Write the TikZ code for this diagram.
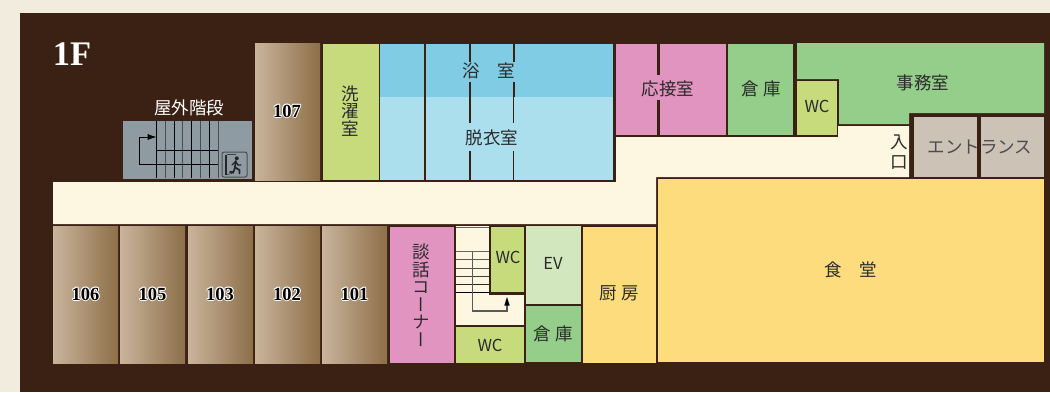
\documentclass[tikz,border=0pt]{standalone}
\usepackage{fontspec}
\usetikzlibrary{arrows.meta}
\setmainfont{Noto Sans CJK JP}
\newfontfamily\numfont{Liberation Serif}[BoldFont=Liberation Serif Bold]
\newfontfamily\jpvert[RawFeature=+vert]{Noto Sans CJK JP}
\definecolor{wall}{HTML}{3A2113}
\definecolor{paper}{HTML}{F1ECDE}
\definecolor{cream}{HTML}{FDF6E0}
\definecolor{lime}{HTML}{C7DA7C}
\definecolor{leaf}{HTML}{94CE8A}
\definecolor{pale}{HTML}{D3E7BE}
\definecolor{rose}{HTML}{E194C0}
\definecolor{bathd}{HTML}{7FCCE4}
\definecolor{bathl}{HTML}{ABDFED}
\definecolor{sun}{HTML}{FCDC7C}
\definecolor{stone}{HTML}{CCC2B6}
\definecolor{steel}{HTML}{8F9BA2}
\definecolor{ink}{HTML}{2B2B2B}
\definecolor{woodl}{HTML}{C9B49C}
\definecolor{woodr}{HTML}{8D6F48}
\newcommand{\halopiece}[3]{\makebox[0pt]{\hspace*{#1}\raisebox{#2}{\textcolor{white}{#3}}}}
\newcommand{\roomno}[1]{{\numfont\bfseries
  \halopiece{1.8pt}{0pt}{#1}\halopiece{-1.8pt}{0pt}{#1}\halopiece{0pt}{1pt}{#1}\halopiece{0pt}{-1pt}{#1}%
  \halopiece{1.4pt}{.8pt}{#1}\halopiece{-1.4pt}{.8pt}{#1}\halopiece{1.4pt}{-.8pt}{#1}\halopiece{-1.4pt}{-.8pt}{#1}%
  \makebox[0pt]{#1}}}
\tikzset{
  lbl/.style={text=ink,inner sep=0pt,font=\fontsize{17.5}{17.5}\selectfont,align=center},
  wclbl/.style={lbl,font=\fontsize{16.5}{16.5}\selectfont},
  numlbl/.style={text=black,inner sep=0pt,font=\fontsize{18.5}{18.5}\selectfont},
  wood/.style={left color=woodl,right color=woodr,draw=none},
  partition/.style={draw=wall,line width=2pt},
  thinpart/.style={draw=wall,line width=1pt},
  stairdark/.style={draw=black,line width=.9pt},
  stairgrey/.style={draw=black!70,line width=1.2pt},
}
\begin{document}
\begin{tikzpicture}[x=1pt,y=-1pt]
\useasboundingbox (0,0) rectangle (1050,392);
\fill[paper] (0,0) rectangle (1050,392);
\fill[wall] (20,13) rectangle (1050,392);
% corridor
\fill[cream] (53,182) -- (616,182) -- (616,137) -- (838,137) -- (838,126) -- (909,126) -- (909,177) -- (656,177) -- (656,224) -- (53,224) -- cycle;
\fill[cream] (456,226) rectangle (524,325);
% wooden rooms
\foreach \a/\b in {53/118,120/185,188/253,255/320,322/387}
  \shade[wood] (\a,226) rectangle (\b,363);
\shade[wood] (255,43) rectangle (320,180);
% upper rooms
\fill[lime] (323,44) rectangle (378.5,180);
\fill[bathd] (380,44) rectangle (613,97);
\fill[bathl] (380,97) rectangle (613,180);
\fill[rose] (616,44) rectangle (726,135);
\fill[leaf] (728,44) rectangle (793,135);
\fill[lime] (797,81) rectangle (837,135);
\fill[leaf] (797,43) -- (1044,43) -- (1044,113) -- (909,113) -- (909,124) -- (839,124) -- (839,79) -- (797,79) -- cycle;
\fill[stone] (914,117) rectangle (977,177);
\fill[stone] (981,117) rectangle (1044,177);
% lower rooms
\fill[rose] (390,227) rectangle (454,363);
\fill[wall] (489,226) rectangle (526,294.5);
\fill[lime] (456,327) rectangle (524,363);
\fill[lime] (491,227) rectangle (524,292);
\fill[pale] (526,226) rectangle (581,304);
\fill[leaf] (526,306) rectangle (581,362);
\fill[sun] (583,227) rectangle (656,363);
\fill[sun] (658,179) rectangle (1044,362);
% bath partitions
\draw[partition] (425,44) -- (425,180);
\draw[partition] (470,44) -- (470,62) (470,82) -- (470,123) (470,151) -- (470,180);
\draw[partition] (513.5,44) -- (513.5,62) (513.5,82) -- (513.5,97);
\draw[thinpart] (513.5,97) -- (513.5,123) (513.5,151) -- (513.5,180);
\draw[draw=wall,line width=2.5pt] (658.5,44) -- (658.5,75) (658.5,100) -- (658.5,135);
% outdoor stairs
\fill[steel] (123,121) rectangle (252,179);
\foreach \x in {156.7,174,191.7,209.3}
  \draw[stairdark] (\x,121) -- (\x,178);
\foreach \x in {165.3,182.7,200.3,218.3}
  \draw[stairgrey] (\x,121) -- (\x,178);
\draw[stairdark] (156.7,150.7) -- (218.3,150.7) (139.3,164.5) -- (218.3,164.5);
\draw[stairdark,-{Latex[length=9pt,width=6pt]}] (156.7,164.5) -- (139.3,164.5) -- (139.3,137) -- (156.7,137);
% exit sign
\draw[draw=black!70,line width=1pt,rounded corners=2pt] (222,152) rectangle (247,177);
\fill[black!85] (225,154.5) rectangle (227,174.5);
\draw[black!75,line width=.7pt] (227,154.5) -- (236,154.5) (227,174.5) -- (234,173);
\fill[black!85] (236.8,158.3) circle (2);
\draw[black!85,line width=1.8pt,line cap=round,line join=round] (235.7,161) -- (235,167.5) -- (239.5,170) -- (239.5,173.5);
\draw[black!85,line width=1.6pt,line cap=round,line join=round] (235,167.5) -- (233.5,172) -- (230,172);
\draw[black!85,line width=1.3pt,line cap=round,line join=round] (232,165) -- (235.7,161.5) -- (238,165) -- (241,165);
% indoor stairs
\draw[draw=black!60,line width=1pt] (456,227) -- (489,227);
\foreach \y/\c in {251.7/60,259.5/65,268/70,276/75,284/85,292/100}
  \draw[draw=black!\c,line width=1pt] (456,\y) -- (489,\y);
\draw[draw=black!65,line width=1.2pt] (472.7,251.7) -- (472.7,311) -- (507,311) -- (507,303);
\fill[black] (507,297) -- (509.7,305.5) -- (504.3,305.5) -- cycle;
% labels
\node[inner sep=0pt,text=white,font={\fontsize{34.5}{34.5}\selectfont\numfont\bfseries}] (floorname) at (72,54) {1F};
\node[lbl,text=white] (outstair) at (189,107.5) {屋外階段};
\node[numlbl] (r107) at (287,111) {\roomno{107}};
\node[numlbl] (r106) at (85.5,294) {\roomno{106}};
\node[numlbl] (r105) at (152.5,294) {\roomno{105}};
\node[numlbl] (r103) at (220,294) {\roomno{103}};
\node[numlbl] (r102) at (287,294) {\roomno{102}};
\node[numlbl] (r101) at (354.5,294) {\roomno{101}};
\node[lbl] (laundry) at (350.5,111) {洗\\濯\\室};
\node[lbl] (bath) at (489,71) {浴　室};
\node[lbl] (dress) at (492,137.5) {脱衣室};
\node[lbl] (parlor) at (668,88.5) {応接室};
\node[lbl] (storeA) at (761,88.5) {倉\hspace{5pt}庫};
\node[wclbl] (wcA) at (817,106.5) {WC};
\node[lbl] (office) at (923,82.5) {事務室};
\node[lbl] (entry) at (899,152) {入\\[2pt]口};
\node[lbl,text=black!70] (hall) at (980,147.5) {エントランス};
\node[lbl,font={\fontsize{17.5}{17.5}\selectfont\jpvert}] (lounge) at (421,295) {談\\話\\コ\\ー\\ナ\\ー};
\node[wclbl] (wcB) at (508,257.5) {WC};
\node[wclbl] (ev) at (553,263.5) {EV};
\node[lbl] (storeB) at (553,333.5) {倉\hspace{5pt}庫};
\node[lbl] (kitchen) at (619.5,293.5) {厨\hspace{5pt}房};
\node[wclbl] (wcC) at (490,345.5) {WC};
\node[lbl] (dining) at (851,269.5) {食　堂};
\end{tikzpicture}
\end{document}
